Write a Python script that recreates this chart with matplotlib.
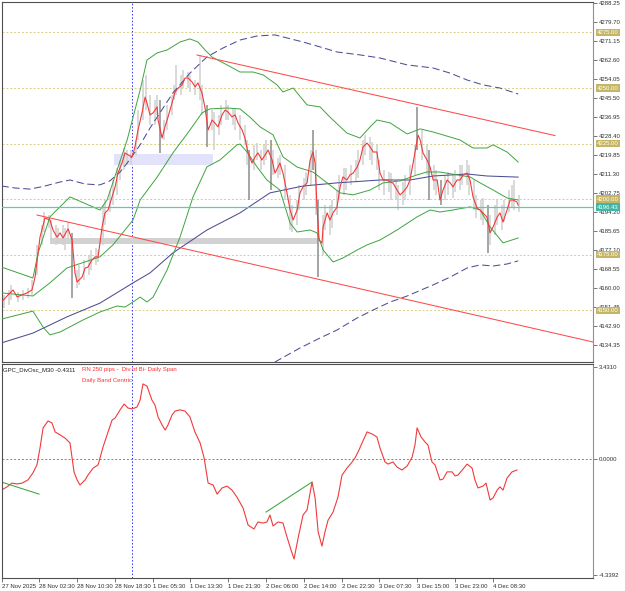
import matplotlib
matplotlib.use("Agg")
import matplotlib.pyplot as plt
import matplotlib.transforms as mtransforms
from matplotlib.patches import Rectangle

plt.rcParams['font.family'] = ['Liberation Sans', 'DejaVu Sans']

#----------------------
# Price line (close, M30 bars)
price_bar = [0, 3.6, 4.9, 6.6, 10.8, 12.9, 14.2, 16.3, 18.4, 20.5, 21.8, 23.5, 24.8, 26.0, 28.2, 29.9,
             31.1, 32.0, 34.1, 35.4, 36.6, 38.3, 39.6, 40.9, 42.6, 43.8, 45.1, 46.8, 48.1, 49.3, 51.0,
             52.3, 53.6, 55.3, 56.5, 57.8, 59.5, 60.8, 61.6, 62.9, 64.2, 65.9, 66.3, 68.0, 69.2, 70.5,
             72.2, 73.5, 74.8, 76.5, 77.7, 79.0, 80.7, 82.0, 83.2, 84.9, 86.2, 87.5, 89.2, 90.4, 91.7,
             93.4, 94.7, 95.9, 97.6, 98.9, 100.2, 101.9, 103.1, 104.4, 106.1, 107.4, 108.6, 110.3,
             111.6, 112.9, 114.6, 115.8, 117.1, 117.9, 119.2, 120.9, 122.2, 123.5, 125.2, 126.4,
             127.7, 129.4, 130.7, 131.9, 132.8, 133.6, 134.5, 135.7, 136.2, 137.9, 139.1, 140.4,
             142.1, 143.4, 144.6, 146.3, 147.6, 148.9, 150.6, 151.8, 153.1, 154.8, 156.1, 157.4,
             159.0, 160.3, 161.6, 163.3, 164.6, 165.8, 167.5, 168.8, 170.1, 171.8, 173.0, 174.3,
             176.0, 176.4, 177.3, 178.5, 180.2, 181.5, 182.8, 184.5, 185.7, 187.0, 188.7, 190.0,
             191.2, 192.9, 194.2, 195.5, 197.2, 198.4, 199.7, 201.4, 202.7, 203.9, 205.6, 206.9,
             208.2, 209.9, 211.1, 212.4, 214.1, 215.4, 216.6, 218.3, 218.8]
price_close = [4153.7, 4157.8, 4159.1, 4156.0, 4157.8, 4159.1, 4164.9, 4182.9, 4191.5, 4190.6, 4186.1,
               4182.9, 4184.8, 4182.5, 4186.6, 4181.6, 4166.8, 4162.7, 4164.9, 4169.0, 4169.4, 4172.6,
               4174.0, 4174.0, 4187.5, 4193.8, 4195.1, 4201.0, 4205.5, 4211.7, 4216.2, 4220.8, 4219.9,
               4219.0, 4223.5, 4231.1, 4238.8, 4245.9, 4243.2, 4237.9, 4238.8, 4241.5, 4235.6, 4227.5,
               4232.5, 4236.9, 4243.2, 4248.2, 4250.0, 4251.4, 4254.5, 4254.5, 4252.7, 4250.5, 4252.3,
               4247.8, 4241.0, 4231.1, 4235.6, 4234.2, 4232.5, 4237.9, 4240.1, 4239.2, 4237.0, 4237.9,
               4234.2, 4231.1, 4227.5, 4220.8, 4216.2, 4219.0, 4220.8, 4217.6, 4219.9, 4222.1, 4217.6,
               4211.7, 4214.4, 4216.2, 4211.7, 4202.8, 4195.1, 4190.6, 4195.1, 4202.8, 4205.5, 4207.3,
               4217.6, 4221.2, 4216.2, 4196.4, 4181.6, 4180.2, 4187.5, 4193.8, 4190.6, 4193.8, 4196.4,
               4205.5, 4210.0, 4208.6, 4210.9, 4211.7, 4214.4, 4217.6, 4223.5, 4225.2, 4223.5, 4221.2,
               4221.2, 4211.7, 4208.6, 4208.6, 4207.7, 4207.2, 4204.1, 4201.9, 4203.2, 4205.5, 4208.6,
               4216.2, 4226.6, 4228.8, 4226.6, 4220.8, 4217.6, 4214.4, 4208.6, 4208.6, 4199.6, 4204.1,
               4208.6, 4207.3, 4205.5, 4208.6, 4208.6, 4210.9, 4211.7, 4208.6, 4200.9, 4196.0, 4195.1,
               4193.8, 4191.9, 4184.8, 4187.5, 4191.9, 4193.8, 4189.7, 4195.1, 4199.6, 4199.6, 4198.7,
               4197.3]

# Candle ranges (high / low)
candle_bar = [1, 3, 4, 7, 9, 11, 13, 15, 17, 18, 20, 21, 23, 24, 26, 27, 28, 30, 32, 33, 35, 37, 38,
              40, 41, 43, 44, 46, 47, 49, 50, 52, 53, 55, 57, 58, 60, 61, 63, 65, 66, 67, 69, 70, 72,
              73, 74, 76, 77, 79, 80, 82, 84, 85, 87, 89, 90, 92, 93, 95, 96, 98, 99, 101, 103, 104,
              105, 107, 108, 110, 111, 112, 114, 115, 117, 118, 120, 122, 123, 125, 126, 128, 129,
              131, 132, 133, 134, 136, 137, 139, 140, 142, 143, 145, 146, 148, 150, 151, 153, 154,
              156, 157, 159, 160, 162, 164, 165, 167, 168, 170, 171, 173, 175, 176, 178, 180, 181,
              183, 184, 186, 188, 189, 191, 192, 194, 195, 197, 198, 200, 201, 203, 204, 206, 207,
              209, 210, 212, 213, 215, 216, 217, 219]
candle_high = [4156.9, 4159.1, 4161.4, 4158.2, 4159.1, 4160.0, 4163.6, 4179.4, 4188.4, 4194.2, 4192.9,
               4190.6, 4188.4, 4187.0, 4188.4, 4187.0, 4189.7, 4184.8, 4168.1, 4170.4, 4172.6, 4174.9,
               4177.1, 4178.0, 4177.1, 4197.4, 4199.6, 4204.1, 4208.6, 4214.0, 4217.6, 4223.0, 4222.1,
               4222.1, 4226.6, 4240.1, 4253.6, 4255.9, 4246.9, 4244.6, 4246.9, 4244.6, 4235.6, 4242.4,
               4246.9, 4251.4, 4260.4, 4255.9, 4258.1, 4257.2, 4255.9, 4253.6, 4264.9, 4251.4, 4242.4,
               4240.1, 4239.2, 4237.9, 4242.4, 4244.6, 4242.4, 4241.0, 4241.0, 4237.9, 4233.4, 4226.6,
               4222.1, 4224.4, 4225.2, 4222.1, 4224.4, 4226.6, 4226.6, 4222.1, 4218.5, 4219.9, 4215.4,
               4201.9, 4197.4, 4199.6, 4206.4, 4209.5, 4212.2, 4222.1, 4231.1, 4222.1, 4199.6, 4192.9,
               4197.4, 4197.4, 4199.6, 4204.1, 4210.9, 4214.0, 4214.0, 4215.4, 4217.6, 4222.1, 4226.6,
               4228.9, 4228.0, 4225.7, 4224.4, 4217.6, 4213.1, 4212.2, 4211.7, 4208.6, 4206.4, 4207.7,
               4210.9, 4215.4, 4224.4, 4241.5, 4231.1, 4224.4, 4222.1, 4215.4, 4213.1, 4208.6, 4210.9,
               4212.2, 4210.9, 4213.1, 4215.4, 4215.4, 4217.6, 4215.4, 4208.6, 4201.9, 4199.6, 4200.5,
               4197.4, 4192.9, 4197.4, 4199.6, 4197.4, 4199.6, 4204.1, 4206.4, 4208.6, 4201.9]
candle_low = [4151.0, 4152.4, 4154.6, 4153.7, 4154.6, 4155.5, 4156.9, 4165.9, 4179.4, 4185.2, 4187.0,
              4181.6, 4179.4, 4180.7, 4179.4, 4177.1, 4181.6, 4155.5, 4160.0, 4161.4, 4163.6, 4165.9,
              4168.1, 4170.4, 4171.7, 4179.4, 4188.4, 4194.2, 4197.4, 4201.9, 4208.6, 4213.1, 4215.4,
              4215.4, 4219.9, 4226.6, 4235.6, 4240.1, 4233.4, 4233.4, 4237.9, 4220.8, 4226.6, 4231.1,
              4237.9, 4244.6, 4246.9, 4246.9, 4250.0, 4250.0, 4248.2, 4246.9, 4244.6, 4237.9, 4223.5,
              4231.1, 4222.1, 4228.9, 4233.4, 4235.6, 4235.6, 4233.4, 4231.1, 4226.6, 4224.4, 4215.4,
              4199.6, 4213.1, 4217.6, 4213.1, 4215.4, 4217.6, 4204.1, 4210.9, 4209.5, 4210.9, 4199.6,
              4186.1, 4185.2, 4188.4, 4195.1, 4199.6, 4201.9, 4206.4, 4213.1, 4192.9, 4164.9, 4174.9,
              4186.1, 4183.9, 4187.0, 4192.9, 4199.6, 4201.9, 4204.1, 4206.4, 4207.7, 4209.5, 4215.4,
              4219.9, 4217.6, 4215.4, 4213.1, 4204.1, 4201.9, 4203.2, 4199.6, 4199.6, 4195.1, 4197.4,
              4199.6, 4201.9, 4210.9, 4222.1, 4217.6, 4210.9, 4199.6, 4204.1, 4201.9, 4197.4, 4199.6,
              4201.9, 4200.5, 4203.2, 4204.1, 4206.4, 4206.4, 4201.9, 4195.1, 4191.5, 4190.6, 4188.4,
              4175.8, 4179.4, 4183.9, 4188.4, 4186.1, 4189.7, 4194.2, 4196.0, 4195.1, 4194.2]
dark_candles = [30, 67, 87, 105, 114, 132, 134, 176, 181, 186, 206]

# Bollinger style bands (green)
upper_bar = [0, 13.3, 15.5, 20.5, 29.0, 41.7, 44.7, 53.2, 58.7, 61.6, 65.9, 70.1, 75.6, 79.8, 83.2, 86.2,
             89.2, 95.5, 101.0, 106.5, 110.8, 116.7, 119.2, 123.5, 129.4, 134.9, 139.1, 146.3, 151.8,
             156.1, 159.0, 164.6, 171.8, 177.3, 182.8, 194.2, 199.7, 205.6, 208.2, 214.1, 218.8]
upper_val = [4169.4, 4164.5, 4175.8, 4192.0, 4201.0, 4195.1, 4199.6, 4226.6, 4249.1, 4262.6, 4265.8,
             4267.1, 4270.7, 4272.1, 4270.7, 4267.1, 4263.9, 4260.4, 4257.2, 4257.2, 4255.9, 4251.4,
             4248.2, 4250.0, 4242.4, 4241.5, 4236.9, 4229.7, 4227.5, 4232.5, 4235.6, 4234.3, 4229.3,
             4231.6, 4230.2, 4226.6, 4223.0, 4223.0, 4224.4, 4221.2, 4216.7]
mid_bar = [0, 13.3, 20.5, 27.7, 41.7, 47.2, 55.7, 58.7, 65.9, 72.6, 79.8, 84.9, 88.3, 95.5, 101.0, 105.2,
           109.5, 115.0, 119.2, 125.2, 131.9, 137.9, 143.4, 148.9, 156.1, 161.6, 168.8, 176.0, 180.2,
           185.7, 192.9, 198.4, 202.7, 208.2, 214.1, 218.8]
mid_val = [4157.8, 4156.4, 4162.3, 4169.0, 4174.0, 4179.4, 4190.6, 4199.6, 4209.9, 4220.8, 4231.1,
           4238.8, 4240.6, 4241.0, 4240.6, 4236.9, 4232.5, 4228.9, 4219.0, 4214.4, 4212.2, 4207.3,
           4202.8, 4201.9, 4204.1, 4207.3, 4208.2, 4210.9, 4212.2, 4212.2, 4210.9, 4210.0, 4207.3,
           4204.1, 4200.5, 4199.6]
lower_bar = [0, 13.3, 17.6, 20.5, 24.8, 34.5, 41.7, 48.9, 52.3, 55.7, 58.7, 61.6, 64.2, 70.1, 75.6, 81.1,
             87.0, 92.5, 99.7, 101.0, 104.0, 108.2, 112.4, 117.9, 122.2, 125.2, 130.7, 133.6, 136.2,
             140.4, 144.6, 150.6, 154.8, 160.3, 167.5, 176.0, 181.5, 185.7, 191.2, 198.4, 202.7, 206.9,
             212.4, 218.8]
lower_val = [4146.0, 4149.6, 4142.4, 4138.9, 4140.2, 4145.6, 4149.2, 4151.9, 4151.4, 4153.7, 4155.9,
             4153.7, 4155.9, 4168.1, 4182.9, 4201.0, 4214.5, 4217.6, 4224.4, 4224.8, 4221.2, 4214.5,
             4208.6, 4204.1, 4189.2, 4185.2, 4186.1, 4184.8, 4177.1, 4171.7, 4173.5, 4177.1, 4179.4,
             4181.6, 4186.1, 4192.0, 4195.1, 4194.2, 4195.1, 4196.5, 4195.1, 4187.5, 4180.3, 4182.5]

# Daily band (purple)
dup_bar = [0, 5.7, 12.1, 18.4, 24.8, 29.0, 35.4, 41.7, 45.9, 50.2, 53.2, 58.7, 62.9, 65.9, 72.6, 79.8,
           87.0, 93.8, 101.0, 108.2, 115.8, 127.7, 134.9, 142.1, 151.8, 160.3, 171.8, 182.8, 190.0,
           197.2, 203.9, 211.1, 218.8]
dup_val = [4205.9, 4205.0, 4204.5, 4205.9, 4207.7, 4208.6, 4206.8, 4206.4, 4208.2, 4212.2, 4216.2,
           4224.4, 4232.0, 4236.9, 4247.8, 4256.7, 4264.0, 4268.0, 4271.6, 4273.4, 4273.9, 4270.7,
           4268.5, 4266.2, 4264.9, 4263.5, 4260.4, 4259.0, 4256.7, 4253.6, 4251.4, 4250.0, 4247.3]
dmid_bar = [0, 13.3, 27.7, 41.7, 55.7, 62.9, 72.6, 87.0, 101.0, 113.7, 127.7, 142.1, 160.3, 173.0,
            182.8, 197.2, 205.6, 218.8]
dmid_val = [4135.3, 4139.7, 4147.0, 4153.2, 4162.3, 4166.8, 4175.8, 4186.1, 4193.8, 4202.8, 4205.9,
            4207.3, 4208.6, 4208.6, 4210.4, 4211.3, 4210.4, 4209.9]
dlo_bar = [115.8, 126.4, 134.9, 142.1, 150.6, 157.4, 164.6, 171.8, 182.8, 190.0, 197.2, 202.7, 208.2,
           214.1, 218.8]
dlo_val = [4126.7, 4133.0, 4137.5, 4141.1, 4146.5, 4150.1, 4153.7, 4156.4, 4161.4, 4164.9, 4169.0,
           4170.4, 4169.9, 4170.8, 4172.2]

# Trend lines, zones, levels
trend_up_bar = [82.8, 234.4]
trend_up_val = [4264.85, 4228.6]
trend_lo_bar = [15.0, 250.5]
trend_lo_val = [4192.85, 4135.7]
zone_blue = (47.6, 89.6, 4215.4, 4220.3)
zone_grey = (20.5, 134.1, 4179.8, 4182.5)
levels = [4275.0, 4250.0, 4225.0, 4200.0, 4175.0, 4150.0]
last_price = 4196.43
marker_bar = 55.1

price_ticks = [4288.25, 4279.70, 4271.15, 4262.60, 4254.05, 4245.50, 4236.95, 4228.40, 4219.85,
               4211.30, 4202.75, 4194.20, 4185.65, 4177.10, 4168.55, 4160.00, 4151.45, 4142.90, 4134.35]

#----------------------
# Oscillator
osc_bar = [0, 2.3, 4.4, 6.6, 8.7, 11.2, 13.3, 15.0, 16.3, 17.6, 19.7, 21.4, 22.7, 24.8, 26.9, 29.0, 30.7,
           32.0, 33.2, 35.4, 36.6, 38.8, 40.9, 43.0, 44.7, 46.8, 48.1, 50.2, 51.9, 53.6, 55.3, 57.4,
           58.7, 59.9, 61.6, 63.7, 65.0, 66.3, 68.0, 69.3, 70.5, 72.2, 73.5, 75.6, 77.7, 79.8, 81.9,
           84.1, 85.8, 87.5, 89.6, 91.3, 93.4, 95.5, 97.6, 99.7, 102.3, 104.4, 106.9, 108.6, 110.8,
           112.4, 113.7, 115.0, 117.1, 119.2, 120.9, 122.6, 123.9, 125.6, 127.7, 129.4, 131.5, 132.8,
           134.1, 135.7, 137.0, 138.3, 140.4, 142.5, 144.2, 146.3, 148.5, 149.7, 151.0, 152.7, 154.8,
           157.0, 159.0, 160.3, 162.4, 163.7, 165.8, 167.5, 169.6, 171.8, 173.9, 175.1, 176.0, 177.7,
           179.4, 180.6, 182.3, 183.6, 185.7, 187.0, 188.7, 190.8, 192.1, 193.3, 195.5, 197.2, 199.3,
           200.5, 201.8, 203.9, 205.2, 206.9, 208.2, 209.9, 211.1, 212.4, 214.1, 216.2, 218.3]
osc_val = [-1.16, -1.04, -0.90, -0.93, -0.90, -0.78, -0.52, -0.22, 0.41, 1.16, 1.42, 1.34, 1.01, 0.90,
           0.78, 0.60, -0.48, -0.78, -0.97, -0.78, -0.60, -0.34, -0.22, 0.45, 0.90, 1.45, 1.53, 1.83,
           2.05, 1.90, 1.87, 1.94, 2.20, 2.80, 2.72, 2.20, 2.01, 1.57, 1.27, 1.08, 1.27, 1.64, 1.79,
           1.83, 1.79, 1.57, 1.01, 0.60, 0.04, -0.90, -0.97, -1.31, -1.08, -1.01, -1.16, -1.42, -1.83,
           -2.46, -2.61, -2.35, -2.39, -2.35, -2.09, -2.50, -2.35, -2.39, -2.91, -3.39, -3.73, -2.95,
           -2.09, -1.90, -0.86, -1.45, -2.72, -3.25, -2.72, -2.28, -1.98, -1.42, -0.60, -0.34, -0.11,
           0.04, 0.26, 0.60, 1.01, 0.93, 0.82, 0.41, -0.11, -0.19, -0.11, -0.30, -0.41, -0.26, 0.07,
           0.52, 1.16, 0.82, 0.63, 0.52, -0.11, -0.22, -0.78, -0.75, -0.48, -0.48, -0.63, -0.60, -0.37,
           -0.19, -0.34, -0.78, -1.08, -1.01, -0.90, -1.53, -1.45, -1.16, -1.04, -1.16, -0.71, -0.48,
           -0.41]
div1_bar = [0, 15.9]
div1_val = [-0.86, -1.31]
div2_bar = [112.0, 131.5]
div2_val = [-1.98, -0.86]
osc_ticks = [3.4310, 0.0, -4.3392]

time_bars = [0.2, 16, 32, 48, 64, 80, 96, 112, 128, 144, 160, 176, 192, 208]
time_labels = ['27 Nov 2025', '28 Nov 02:30', '28 Nov 10:30', '28 Nov 18:30', '1 Dec 05:30',
               '1 Dec 13:30', '1 Dec 21:30', '2 Dec 06:00', '2 Dec 14:00', '2 Dec 22:30',
               '3 Dec 07:30', '3 Dec 15:00', '3 Dec 23:00', '4 Dec 08:30']

#----------------------
fs = 4.3
frame = '#505050'
fig = plt.figure(figsize=(6.25, 5.91), dpi=100)
ax = fig.add_axes([0.0032, 0.3875, 0.9456, 0.6091])
ax2 = fig.add_axes([0.0032, 0.0220, 0.9456, 0.3621])

for a in (ax, ax2):
    a.set_xlim(0.2, 250.5)
    for s in a.spines.values():
        s.set_color(frame)
        s.set_linewidth(0.8)
    a.spines['right'].set_color('#909090')
    a.yaxis.tick_right()
    a.tick_params(axis='y', length=3, width=0.6, color='#606060', pad=1, labelsize=fs, labelcolor='#303030')

#Main price panel
ax.set_ylim(4126.7, 4288.7)
ax.set_xticks([])
ax.set_yticks(price_ticks)
ax.set_yticklabels(['%.2f' % v for v in price_ticks])

for lv in levels:
    ax.axhline(lv, color='#d6cf86', lw=0.7, ls=(0, (2, 2)), zorder=1)
ax.axvline(marker_bar, color='#2f2fff', lw=0.7, ls=(0, (1.5, 2)), zorder=1)

ax.add_patch(Rectangle((zone_blue[0], zone_blue[2]), zone_blue[1] - zone_blue[0],
                       zone_blue[3] - zone_blue[2], fc='#e2e2fa', ec='none', zorder=1))
ax.add_patch(Rectangle((zone_grey[0], zone_grey[2]), zone_grey[1] - zone_grey[0],
                       zone_grey[3] - zone_grey[2], fc='#d2d2d2', ec='none', zorder=1))

cols = ['#8c8c8c' if b in dark_candles else '#d0d0d0' for b in candle_bar]
ax.vlines(candle_bar, candle_low, candle_high, colors=cols, lw=1.1, zorder=2)

ax.plot(dup_bar, dup_val, color='#4d4d94', lw=0.75, dashes=(7, 3.5), zorder=3)
ax.plot(dmid_bar, dmid_val, color='#4d4d94', lw=0.75, zorder=3)
ax.plot(dlo_bar, dlo_val, color='#4d4d94', lw=0.75, dashes=(7, 3.5), zorder=3)

for xs, ys in ((upper_bar, upper_val), (mid_bar, mid_val), (lower_bar, lower_val)):
    ax.plot(xs, ys, color='#3fa33f', lw=0.7, zorder=3)

ax.plot(trend_up_bar, trend_up_val, color='#ff4a4a', lw=0.75, zorder=3)
ax.plot(trend_lo_bar, trend_lo_val, color='#ff4a4a', lw=0.75, zorder=3)

ax.axhline(last_price, color='#5cc8b8', lw=0.9, zorder=3)
ax.plot(price_bar, price_close, color='#f23a3a', lw=0.8, zorder=4)

# right side level tags
trans = mtransforms.blended_transform_factory(ax.transAxes, ax.transData)
for lv in levels:
    ax.text(1.0065, lv, '%.2f' % lv, transform=trans, fontsize=fs, color='white', va='center',
            ha='left', bbox=dict(boxstyle='square,pad=0.2', fc='#c4b665', ec='none'), zorder=6)
ax.text(1.0065, last_price, '%.2f' % last_price, transform=trans, fontsize=fs, color='white',
        va='center', ha='left', bbox=dict(boxstyle='square,pad=0.2', fc='#3fb5a6', ec='none'), zorder=6)

#Oscillator panel
ax2.set_ylim(-4.439, 3.544)
ax2.set_yticks(osc_ticks)
ax2.set_yticklabels(['%.4f' % v for v in osc_ticks])
ax2.axhline(0, color='#3cb83c', lw=0.7, ls=(0, (2, 2)))
ax2.axvline(marker_bar, color='#2f2fff', lw=0.7, ls=(0, (1.5, 2)))
ax2.plot(osc_bar, osc_val, color='#f23a3a', lw=0.8)
ax2.plot(div1_bar, div1_val, color='#3fa33f', lw=0.75)
ax2.plot(div2_bar, div2_val, color='#3fa33f', lw=0.75)

ax2.set_xticks(time_bars)
ax2.set_xticklabels(time_labels)
ax2.tick_params(axis='x', length=3, width=0.6, color='#606060', pad=1.5, labelsize=fs, labelcolor='#303030')
for lab in ax2.get_xticklabels():
    lab.set_ha('left')

ax2.text(0.002, 0.972, 'GPC_DivOsc_M30 -0.4311', transform=ax2.transAxes, fontsize=fs,
         color='#202020', va='center', ha='left')
ax2.text(0.135, 0.972, 'RN 250 pips -  Div of Bi- Daily Span', transform=ax2.transAxes, fontsize=fs,
         color='#ff3030', va='center', ha='left')
ax2.text(0.135, 0.925, 'Daily Band Centric', transform=ax2.transAxes, fontsize=fs,
         color='#ff3030', va='center', ha='left')

fig.savefig('out.png', dpi=100)
